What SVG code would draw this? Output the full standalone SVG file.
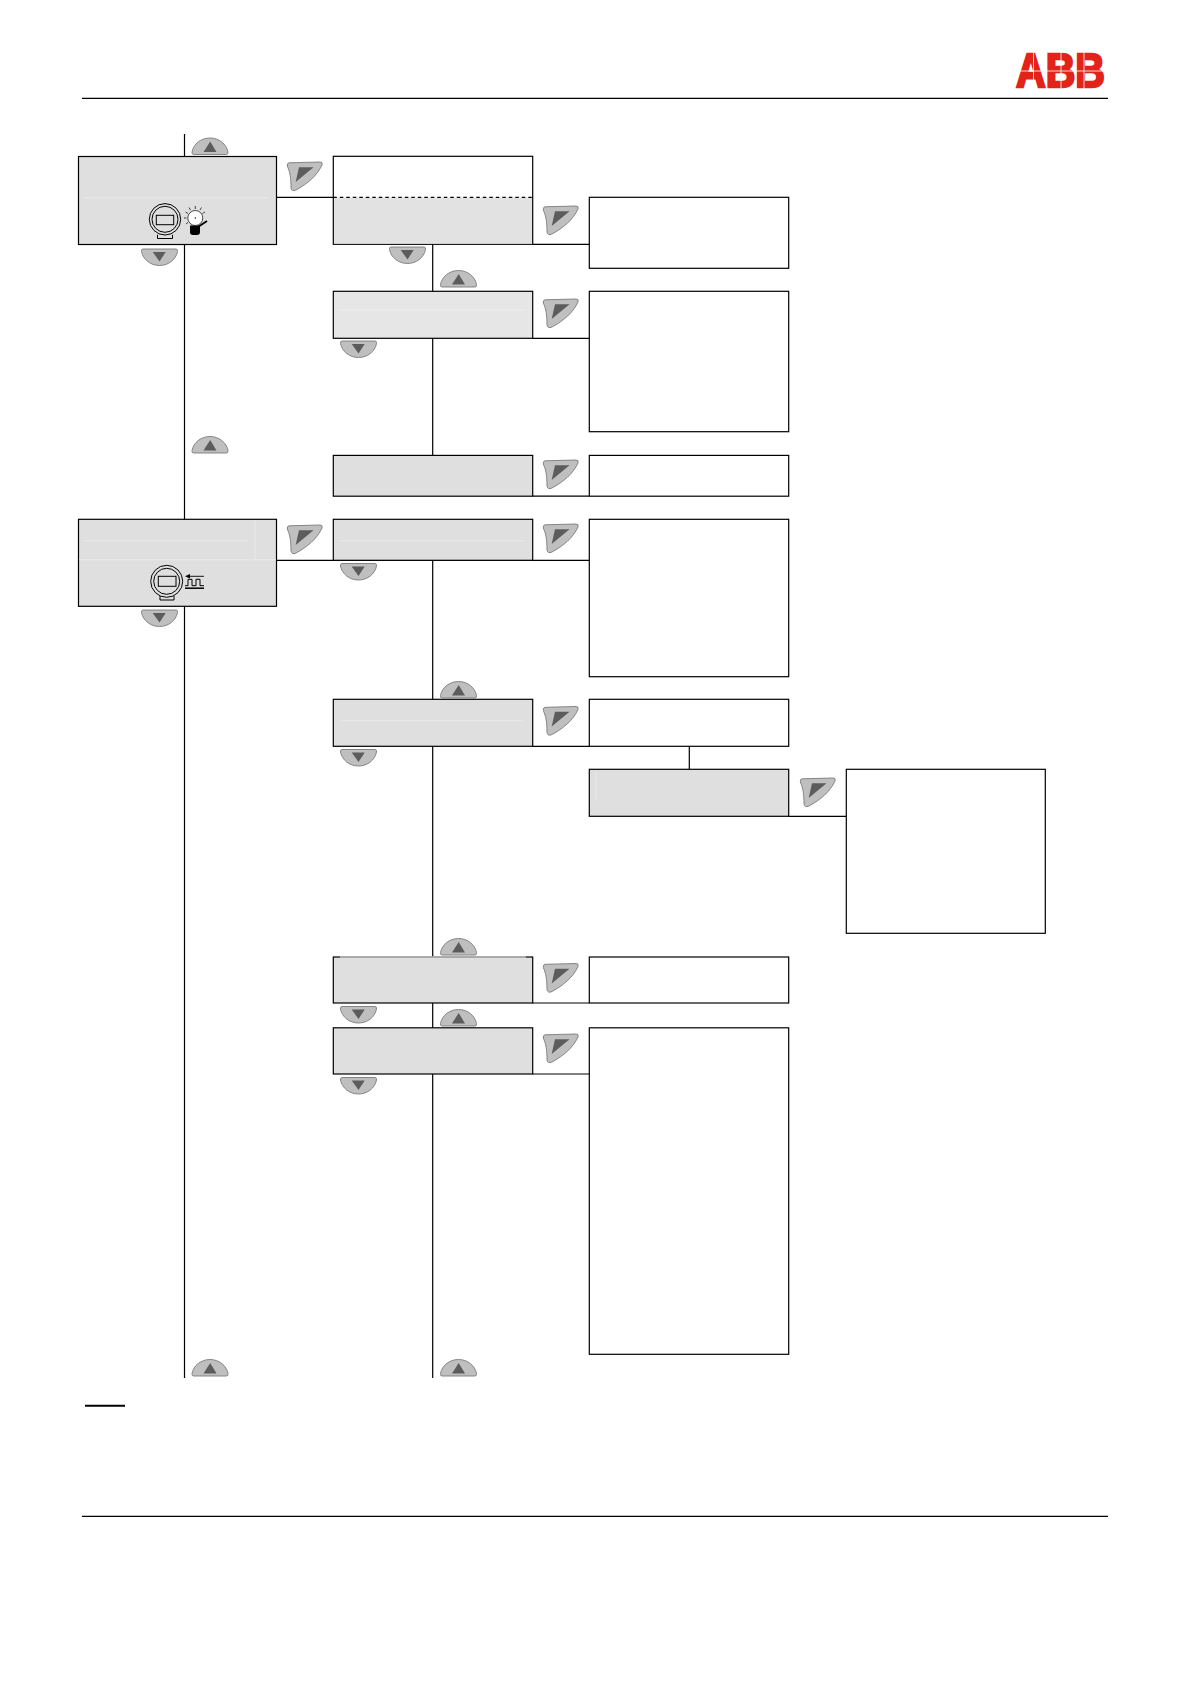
<svg xmlns="http://www.w3.org/2000/svg" xmlns:xlink="http://www.w3.org/1999/xlink" width="1190" height="1684" viewBox="0 0 1190 1684">
<style>
.w{fill:#fff;stroke:#000;stroke-width:1.2}
.g{fill:#dfdfdf;stroke:#000;stroke-width:1.2}
.l{fill:#e6e6e6;stroke:#000;stroke-width:1.2}
.f{stroke:#eaeaea;stroke-width:1;fill:none}
.c{stroke:#000;stroke-width:1.2;fill:none}
.btn{fill:#bfbfbf;stroke:#7c7c7c;stroke-width:.9}
.tri{fill:#5c5c5c}
.ic{fill:none;stroke:#000;stroke-width:1}
</style>
<defs>
<g id="up"><path class="btn" d="M2 16.500Q.2 16.500 .5 14C2 6 9.500 0 18.500 0S35 6 36.500 14Q36.800 16.500 35 16.500Z"/><path class="tri" d="M12 14H25L18.700 3.500Z"/></g>
<g id="down"><path class="btn" d="M2 0Q.2 0 .5 2.500C2 10.500 9.500 16.500 18.500 16.500S35 10.500 36.500 2.500Q36.800 0 35 0Z"/><path class="tri" d="M11.700 3H24.700L18.500 12.500Z"/></g>
<g id="side"><path class="btn" d="M2 .8L33 0Q36 0 35 3C30 14 20 22 9 28Q4.500 30 4 26C4 16 3 10 .3 4Q0 1 2 .8Z"/><path class="tri" d="M12 5.200H26.500L8.700 20Z"/></g>
</defs>

<g id="page-rules">
<line class="c" x1="82" y1="98.300" x2="1108" y2="98.300"/>
<line class="c" x1="82" y1="1516.300" x2="1108" y2="1516.300"/>
<line x1="85" y1="1405.700" x2="125" y2="1405.700" stroke="#000" stroke-width="2"/>
</g>

<g id="logo">
<text x="1016" y="87.300" font-family="'Liberation Sans',Arial,sans-serif" font-weight="700" font-size="47.500" fill="#e2231a" stroke="#e2231a" stroke-width="2.400" stroke-linejoin="miter" textLength="89" lengthAdjust="spacingAndGlyphs">ABB</text>
<path d="M1014 71H1108M1033.500 52V90M1061 52V90M1084 52V90" stroke="#fff" stroke-width=".8" fill="none"/>
</g>

<g id="connectors">
<path class="c" d="M184.500 134V1378M432.700 244V496M432.700 560V1378"/>
<path class="c" d="M276.500 197.300H333.300M532.700 244.300H589.300M532.700 338.300H589.300M532.700 496.200H589.300M276.500 560.300H589.300M532.700 746.300H589.300M689.300 746.300V769.300M788.700 816.300H846.300M532.700 1003H589.300M532.700 1074H589.300"/>
</g>

<g id="node-alarm"><rect class="g" x="78.500" y="156.500" width="198" height="88"/><line class="f" x1="84" y1="198" x2="268" y2="198"/>
<g id="icon-device-1"><circle class="ic" cx="165" cy="219.300" r="15.700"/><circle class="ic" cx="165" cy="219.300" r="13"/><rect class="ic" x="156.300" y="215.300" width="17.400" height="9.400"/><path class="ic" d="M157.500 234.800V238.500H172.500V234.800"/></g>
<g id="icon-lamp"><circle cx="195.300" cy="218" r="7.500" fill="#fff" stroke="#000" stroke-width=".7"/><circle cx="195.300" cy="218" r=".7"/><path stroke="#000" stroke-width=".7" d="M195.300 206V209M189 207.500L190.500 210M201.500 207.500L200 210M185.500 212L188 213.500M205 212L202.500 213.500M184 218H186.500M186 224L188 222.500"/><path d="M190 225.500H200V232Q200 235 197 235H193Q190 235 190 232Z"/><path d="M198 227L207 221" stroke="#000" stroke-width="1.800"/></g></g>

<g id="node-a1"><rect class="w" x="333.300" y="156.300" width="199.400" height="88"/><rect x="334" y="197.600" width="198" height="46" fill="#e2e2e2"/><line x1="333.300" y1="197.300" x2="532.700" y2="197.300" stroke="#000" stroke-width="1.200" stroke-dasharray="3.500 3"/></g>
<g id="node-a1-r"><rect class="w" x="589.300" y="197.300" width="199.400" height="71"/></g>
<g id="node-a2"><rect class="l" x="333.300" y="291.300" width="199.400" height="47"/><line x1="340" y1="310" x2="525" y2="310" stroke="#eeeeee"/></g>
<g id="node-a2-r"><rect class="w" x="589.300" y="291.300" width="199.400" height="140.400"/></g>
<g id="node-a3"><rect class="g" x="333.300" y="455.400" width="199.400" height="40.800"/></g>
<g id="node-a3-r"><rect class="w" x="589.300" y="455.400" width="199.400" height="40.800"/></g>

<g id="node-pulse"><rect class="g" x="78.500" y="519.300" width="198" height="87"/><path class="f" d="M84 540.700H248M79 559.800H276M255 520V559"/>
<g id="icon-device-2"><circle class="ic" cx="166.700" cy="581.300" r="16"/><circle class="ic" cx="166.700" cy="581.300" r="13"/><rect class="ic" x="158.300" y="576.300" width="17.700" height="10"/><path class="ic" d="M160 596V600H174V596"/></g>
<g id="icon-signal"><path d="M188 576.300H204" stroke="#000" stroke-width=".9"/><path d="M185 576.300L190 574V578.600Z"/><path class="ic" d="M185 585.700H188V579.300H192V585.700H196V579.300H200V585.700H204"/><path d="M185 588.200H204" stroke="#000" stroke-width="1.500"/></g></g>

<g id="node-b1"><rect class="g" x="333.300" y="519.300" width="199.400" height="41"/><line class="f" x1="340" y1="540.700" x2="524" y2="540.700"/></g>
<g id="node-b1-r"><rect class="w" x="589.300" y="519.300" width="199.400" height="157.400"/></g>
<g id="node-b2"><rect class="g" x="333.300" y="699.300" width="199.400" height="47"/><line class="f" x1="340" y1="720.700" x2="524" y2="720.700"/></g>
<g id="node-b2-r"><rect class="w" x="589.300" y="699.300" width="199.400" height="47"/></g>
<g id="node-b2-sub"><rect class="g" x="589.300" y="769.300" width="199.400" height="47"/><line class="f" x1="596" y1="772" x2="596" y2="800"/></g>
<g id="node-b2-sub-r"><rect class="w" x="846.300" y="769.300" width="199" height="164"/></g>
<g id="node-b3"><rect class="g" x="333.300" y="957" width="199.400" height="46"/><line x1="340" y1="957" x2="526" y2="957" stroke="#c4c4c4" stroke-width="1.400"/></g>
<g id="node-b3-r"><rect class="w" x="589.300" y="957" width="199.400" height="46"/></g>
<g id="node-b4"><rect class="g" x="333.300" y="1027.800" width="199.400" height="46.200"/></g>
<g id="node-b4-r"><rect class="w" x="589.300" y="1027.800" width="199.400" height="326.500"/></g>

<g id="buttons">
<use href="#up" x="191.500" y="138"/><use href="#up" x="440" y="270.500"/><use href="#up" x="191.500" y="436.500"/><use href="#up" x="440" y="681.500"/><use href="#up" x="440" y="938.500"/><use href="#up" x="440" y="1009.500"/><use href="#up" x="191.500" y="1359.500"/><use href="#up" x="440" y="1359.500"/>
<use href="#down" x="141" y="249"/><use href="#down" x="389" y="247"/><use href="#down" x="340" y="341"/><use href="#down" x="141" y="610"/><use href="#down" x="340" y="563.500"/><use href="#down" x="340" y="749.500"/><use href="#down" x="340" y="1006.500"/><use href="#down" x="340" y="1077.500"/>
<use href="#side" x="287" y="162"/><use href="#side" x="543" y="206"/><use href="#side" x="543" y="299"/><use href="#side" x="543" y="460"/><use href="#side" x="287" y="525"/><use href="#side" x="543" y="524"/><use href="#side" x="543" y="706.500"/><use href="#side" x="800" y="778"/><use href="#side" x="543" y="963.500"/><use href="#side" x="543" y="1034"/>
</g>
</svg>
